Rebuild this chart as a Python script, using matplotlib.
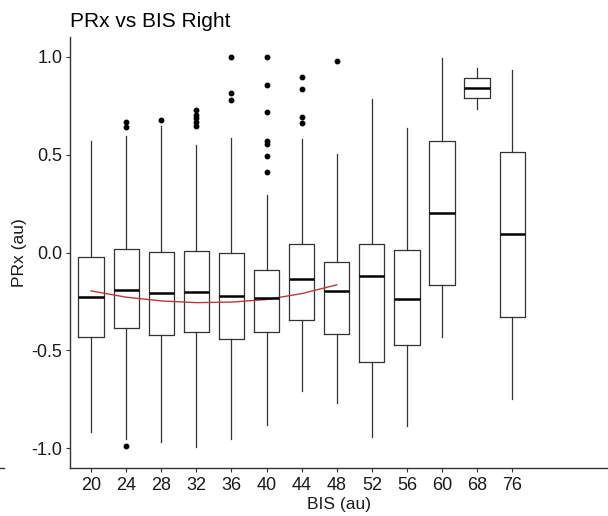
import matplotlib
matplotlib.use("Agg")
import matplotlib.pyplot as plt
from matplotlib.lines import Line2D

plt.rcParams['font.family'] = ['Liberation Sans', 'DejaVu Sans']

# BIS categories and box statistics
bis = ['20', '24', '28', '32', '36', '40', '44', '48', '52', '56', '60', '68', '76']
q1 = [-0.432, -0.384, -0.422, -0.405, -0.444, -0.408, -0.343, -0.418, -0.561, -0.474, -0.167, 0.787, -0.328]
med = [-0.226, -0.189, -0.209, -0.201, -0.223, -0.233, -0.134, -0.196, -0.122, -0.235, 0.204, 0.840, 0.092]
q3 = [-0.022, 0.019, 0.005, 0.007, -0.002, -0.090, 0.044, -0.049, 0.041, 0.012, 0.570, 0.893, 0.514]
whislo = [-0.917, -0.950, -0.968, -0.995, -0.950, -0.878, -0.707, -0.767, -0.940, -0.886, -0.430, 0.733, -0.746]
whishi = [0.571, 0.593, 0.645, 0.551, 0.585, 0.296, 0.577, 0.504, 0.781, 0.636, 0.993, 0.944, 0.930]
fliers = [
    [],
    [0.665, 0.640, -0.988],
    [0.675],
    [0.726, 0.704, 0.687, 0.665, 0.645],
    [1.0, 0.815, 0.776],
    [1.0, 0.857, 0.718, 0.571, 0.556, 0.491, 0.41],
    [0.898, 0.833, 0.690, 0.662],
    [0.978],
    [], [], [], [], [],
]

# smooth trend (red) over the first eight categories
trend_pos = [1, 2, 3, 4, 5, 6, 7, 8]
trend_val = [-0.196, -0.228, -0.247, -0.256, -0.253, -0.240, -0.210, -0.165]

stats = []
for i in range(len(bis)):
    stats.append(dict(q1=q1[i], med=med[i], q3=q3[i], whislo=whislo[i],
                      whishi=whishi[i], fliers=fliers[i], label=bis[i]))

fig = plt.figure(figsize=(6.08, 5.16), dpi=100)
ax = fig.add_axes([70 / 608, 48 / 516, 538 / 608, 431 / 516])

edge = '#333333'
ax.bxp(stats, positions=range(1, len(bis) + 1), widths=0.72, showcaps=False,
       boxprops=dict(color=edge, linewidth=0.9),
       whiskerprops=dict(color=edge, linewidth=0.9),
       medianprops=dict(color='black', linewidth=1.8),
       flierprops=dict(marker='o', markerfacecolor='black', markeredgecolor='black',
                       markersize=3.2, linestyle='none'))

ax.plot(trend_pos, trend_val, color='#b83a3a', linewidth=1.0)

ax.set_xlim(0.4, 15.73)
ax.set_ylim(-1.1, 1.1)
ax.set_yticks([-1.0, -0.5, 0.0, 0.5, 1.0])
ax.set_yticklabels(['-1.0', '-0.5', '0.0', '0.5', '1.0'])
ax.set_xticks(range(1, len(bis) + 1))
ax.set_xticklabels(bis)

for s in ['top', 'right']:
    ax.spines[s].set_visible(False)
for s in ['left', 'bottom']:
    ax.spines[s].set_color(edge)
    ax.spines[s].set_linewidth(1.0)

ax.tick_params(axis='both', length=3, width=0.8, color=edge, labelsize=13,
               labelcolor='#1a1a1a')
ax.tick_params(axis='x', pad=3.5)
ax.tick_params(axis='y', pad=2.5)
ax.set_xlabel('BIS (au)', fontsize=12.5, labelpad=2.5, color='#1a1a1a')
ax.set_ylabel('PRx (au)', fontsize=12.5, labelpad=3, color='#1a1a1a')

fig.text(70 / 608, 1 - 27 / 516, 'PRx vs BIS Right', fontsize=15, va='baseline', ha='left')

# small stray mark at the left edge of the reference
fig.add_artist(Line2D([0, 4 / 608], [48 / 516, 48 / 516], color=edge, linewidth=1.0))

fig.savefig('out.png', dpi=100)
